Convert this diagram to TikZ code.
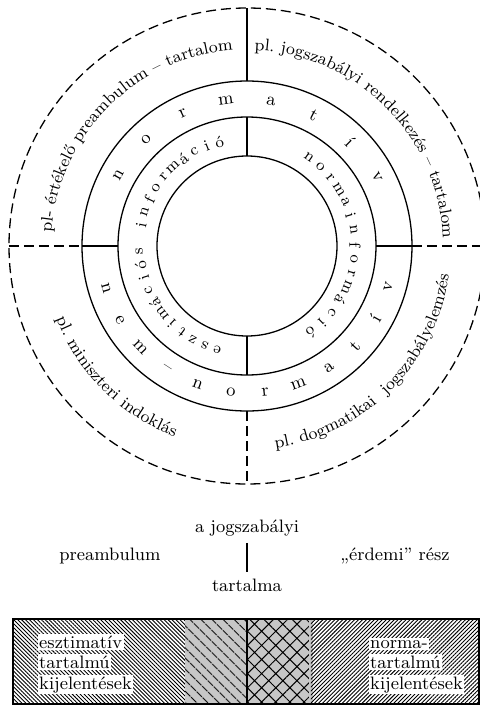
\documentclass[tikz,border=0pt]{standalone}
\usepackage{fontspec}
\usetikzlibrary{decorations.text,patterns.meta}
\newcommand\lblfont{\fontsize{9}{11}\selectfont}
\newcommand\arcfont{\fontsize{8.4}{10}\selectfont}
\newcommand\smlfont{\fontsize{8}{10}\selectfont}

\begin{document}
\begin{tikzpicture}[x=0.5pt,y=0.5pt, line width=0.65pt,
    every node/.style={font=\lblfont, inner sep=1pt},
    dashring/.style={dash pattern=on 5pt off 2.5pt},
    arclabel/.style={decorate, decoration={text along path, text align=center, text={#1}}},
    lowlbl/.style={inner sep=3pt},
    boxtext/.style={fill=white, inner sep=0.8pt, anchor=base west}]
    \useasboundingbox (-247,-463) rectangle (233,246);
    \draw[dashring] (0,0) circle[radius=238];
    \draw (0,0) circle[radius=165];
    \draw (0,0) circle[radius=129];
    \draw (0,0) circle[radius=90];
    \draw (90:238) -- (90:165);
    \draw[dashring] (270:165) -- (270:238);
    \draw[dashring] (180:238) -- (180:165);
    \draw[dashring] (0:165) -- (0:238);
    \draw (180:165) -- (180:129);
    \draw (0:129) -- (0:165);
    \draw (90:129) -- (90:90);
    \draw (270:90) -- (270:129);
    \path[arclabel={|\arcfont|pl- értékelő preambulum – tartalom}] (190:196) arc[start angle=190, end angle=80, radius=196];
    \path[arclabel={|\arcfont|pl. jogszabályi rendelkezés – tartalom}] (100:196) arc[start angle=100, end angle=-10, radius=196];
    \path[arclabel={|\arcfont|pl. miniszteri indoklás}] (180:204) arc[start angle=180, end angle=270, radius=204];
    \path[arclabel={|\arcfont|pl. dogmatikai {\ }jogszabályelemzés}] (270:204) arc[start angle=270, end angle=360, radius=204];
    \foreach \c [count=\i, evaluate=\i as \a using 151-17.6*(\i-1)] in {n,o,r,m,a,t,í,v}
        \node[rotate=\a-90] (top\i) at (\a:147) {\c};
    \foreach \c [count=\i, evaluate=\i as \a using 196.7+13.4*(\i-1)] in {n,e,m,–,n,o,r,m,a,t,í,v}
        \node[rotate=\a+90] (bot\i) at (\a:147) {\c};
    \foreach \c [count=\i, evaluate=\i as \a using 254-7.1*(\i-1)] in {e,s,z,t,i,m,á,c,i,ó,s}
        \node[font=\smlfont, rotate=\a-90] (esz\i) at (\a:108) {\c};
    \foreach \c [count=\i, evaluate=\i as \a using 168.8-7.1*(\i-1)] in {i,n,f,o,r,m,á,c,i,ó}
        \node[font=\smlfont, rotate=\a-90] (inf\i) at (\a:108) {\c};
    \foreach \c [count=\i, evaluate=\i as \a using 55-7.75*(\i-1)] in {n,o,r,m,a,i,n,f,o,r,m,á,c,i,ó}
        \node[font=\smlfont, rotate=\a-90] (nrm\i) at (\a:108) {\c};

    \node[lowlbl] (jogsz) at (0,-282) {a jogszabályi};
    \node[lowlbl] (pream) at (-137,-310) {preambulum};
    \node[lowlbl] (erdemi) at (148,-310) {„érdemi” rész};
    \node[lowlbl] (tartalma) at (0,-339) {tartalma};
    \draw (jogsz) -- (tartalma);

    \fill[black!22] (-62,-373) rectangle (66,-458);
    \path[pattern={Lines[angle=-45,distance=1.4pt,line width=0.45pt]}] (-234,-373) rectangle (-62,-458);
    \path[pattern={Lines[angle=-45,distance=4pt,line width=0.5pt]}] (-62,-373) rectangle (0,-458);
    \path[pattern={Hatch[angle=45,distance=5pt,line width=0.5pt]}] (0,-373) rectangle (62,-458);
    \path[pattern={Lines[angle=45,distance=1.4pt,line width=0.45pt]}] (64,-373) rectangle (232,-458);
    \draw (-234,-373) rectangle (232,-458);
    \draw (0,-373) -- (0,-458);
    \foreach \t [count=\i, evaluate=\i as \yb using -402-20.5*(\i-1)] in {esztimatív,tartalmú,kijelentések}
        \node[boxtext] (est\i) at (-210,\yb) {\t};
    \foreach \t [count=\i, evaluate=\i as \yb using -402-20.5*(\i-1)] in {norma-,tartalmú,kijelentések}
        \node[boxtext] (nt\i) at (121,\yb) {\t};
\end{tikzpicture}
\end{document}
